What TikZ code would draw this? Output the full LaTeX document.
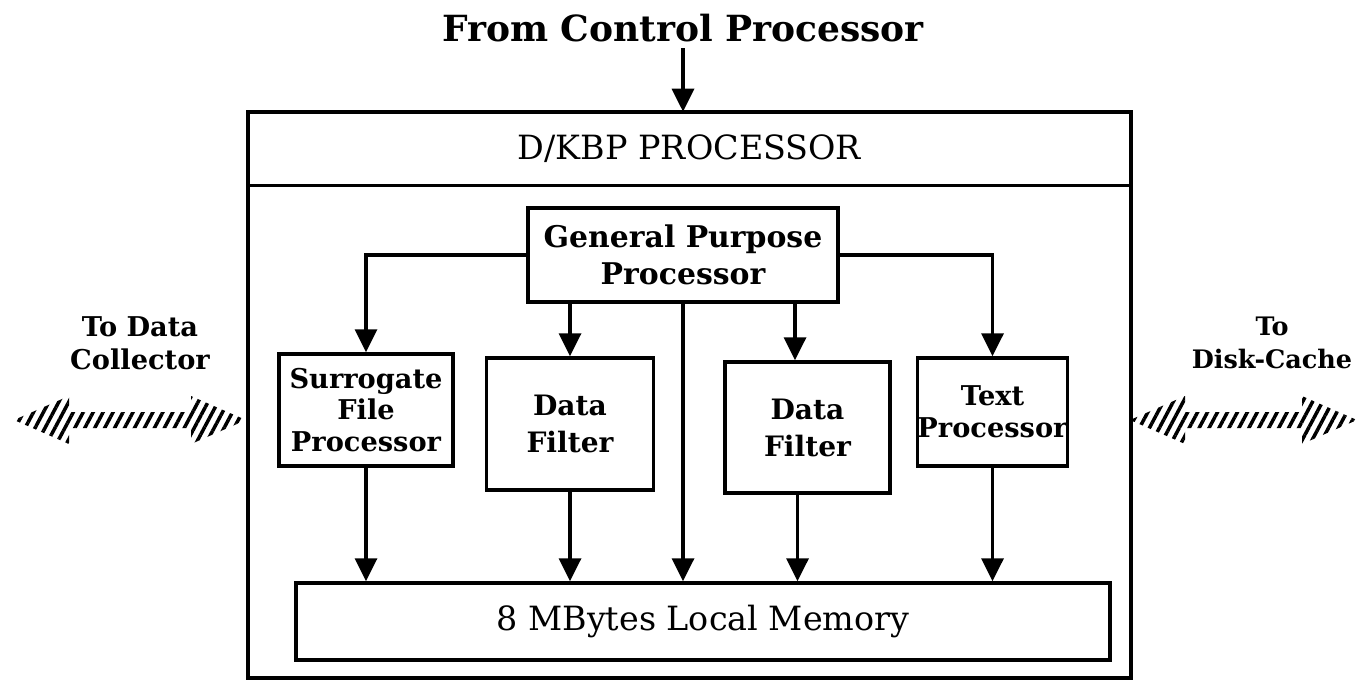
\documentclass[tikz,border=0pt]{standalone}
\usepackage{fontspec}
\setmainfont{DejaVu Serif}
\usetikzlibrary{arrows.meta,patterns.meta}

% hatched two-headed arrow between two x positions at height y
\newcommand{\hatcharrow}[3]{%
  \fill[pattern={Lines[angle=62,distance=5pt,line width=2pt]}]
    (#1,#3) -- ++(55,-24) -- ++(0,16) -- (#2-55,#3-8) -- ++(0,-16)
    -- (#2,#3) -- ++(-55,24) -- ++(0,-16) -- (#1+55,#3+8) -- ++(0,16) -- cycle;}

\begin{document}
\begin{tikzpicture}[x=0.02cm, y=-0.02cm,
    box/.style={draw, line width=2pt, rectangle, inner sep=0pt, align=center,
      font=\bfseries\fontsize{15.5}{18}\selectfont},
    lbl/.style={align=center, font=\bfseries\fontsize{17}{21}\selectfont},
    conn/.style={line width=2pt, -{Triangle[length=0.46cm, width=0.44cm]}}]
  \useasboundingbox (0,0) rectangle (1361,681);

  \node[lbl, font=\bfseries\fontsize{20.5}{24}\selectfont] (from) at (683,28) {From Control Processor};
  \node[draw, line width=2pt, minimum width=883*0.02cm, minimum height=566*0.02cm]
    (body) at (689.5,395) {};
  \node[minimum width=883*0.02cm, minimum height=73*0.02cm,
    font=\fontsize{19}{22}\selectfont] (dkbp) at (689.5,148.5) {D/KBP PROCESSOR};
  \draw[line width=2pt] (dkbp.south west) -- (dkbp.south east);

  \node[box, lbl, minimum width=310*0.02cm, minimum height=94*0.02cm] (gpp) at (683,255)
    {General Purpose\\Processor};
  \node[box, minimum width=174*0.02cm, minimum height=112*0.02cm] (surr) at (366,410)
    {Surrogate\\File\\Processor};
  \node[box, minimum width=167*0.02cm, minimum height=132*0.02cm,
    font=\bfseries\fontsize{16}{21}\selectfont] (df1) at (570,424) {Data\\Filter};
  \node[box, minimum width=165*0.02cm, minimum height=131*0.02cm,
    font=\bfseries\fontsize{16}{21}\selectfont] (df2) at (807.5,427.5) {Data\\Filter};
  \node[box, minimum width=149*0.02cm, minimum height=108*0.02cm] (tp) at (992.5,412)
    {Text\\Processor};
  \node[box, minimum width=814*0.02cm, minimum height=77*0.02cm,
    font=\fontsize{19}{22}\selectfont] (mem) at (703,621.5) {8 MBytes Local Memory};

  \node[lbl, font=\bfseries\fontsize{15.5}{19}\selectfont] (dc) at (140,343) {To Data\\Collector};
  \node[lbl, font=\bfseries\fontsize{14.5}{19}\selectfont] (cache) at (1272,343) {To\\Disk-Cache};

  \draw[conn] (from.south) -- (from.south |- dkbp.north);
  \draw[conn] (gpp.west) -| (surr.north);
  \draw[conn] (gpp.east) -| (tp.north);
  \draw[conn] (df1.north |- gpp.south) -- (df1.north);
  \draw[conn] ([xshift=-0.25cm]df2.north |- gpp.south) -- ([xshift=-0.25cm]df2.north);
  \draw[conn] (gpp.south) -- (gpp.south |- mem.north);
  \draw[conn] (surr.south) -- (surr.south |- mem.north);
  \draw[conn] (df1.south) -- (df1.south |- mem.north);
  \draw[conn] ([xshift=-0.2cm]df2.south) -- ([xshift=-0.2cm]df2.south |- mem.north);
  \draw[conn] (tp.south) -- (tp.south |- mem.north);

  \hatcharrow{14}{246}{420}
  \hatcharrow{1130}{1357}{420}
\end{tikzpicture}
\end{document}
